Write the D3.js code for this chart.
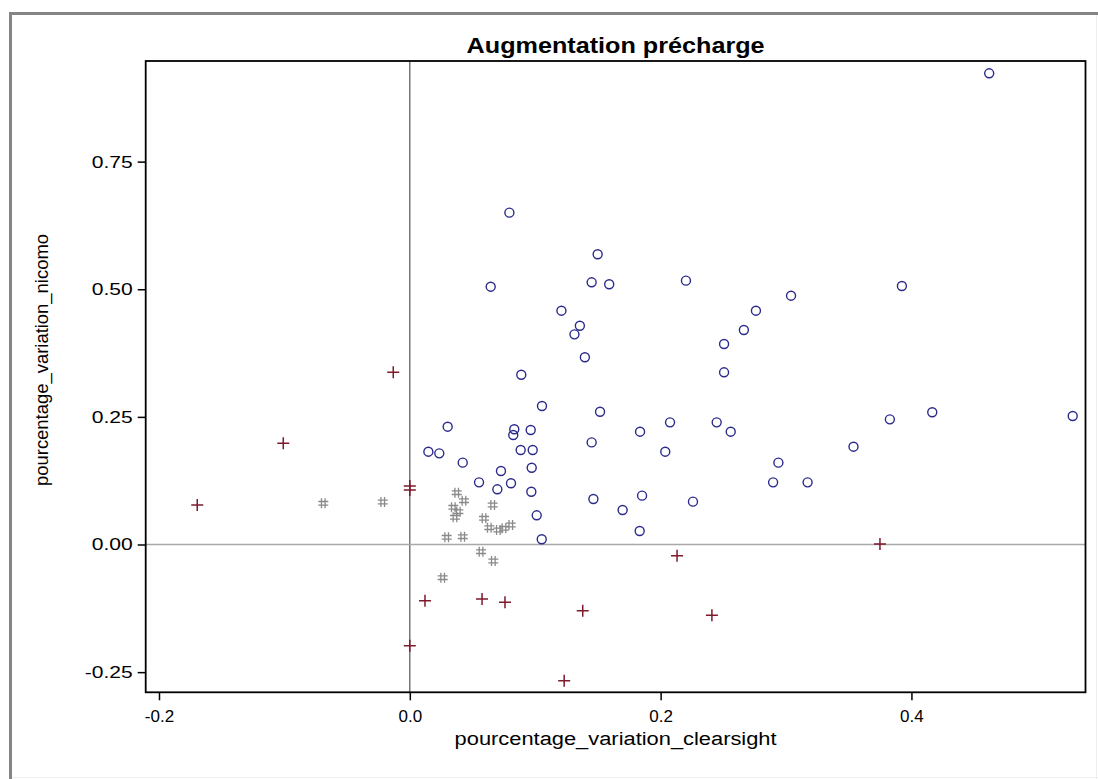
<!DOCTYPE html>
<html><head><meta charset="utf-8">
<script src="https://cdn.jsdelivr.net/npm/d3@7"></script>
<style>body{margin:0;background:#fff}svg{display:block}</style></head>
<body><svg id="c" width="1098" height="779"></svg>
<script>
const title = "Augmentation précharge";
const xLabel = "pourcentage_variation_clearsight";
const yLabel = "pourcentage_variation_nicomo";
const xTicks = [-0.2, 0.0, 0.2, 0.4];
const xTickLabels = ["-0.2", "0.0", "0.2", "0.4"];
const yTicks = [-0.25, 0.0, 0.25, 0.5, 0.75];
const yTickLabels = ["-0.25", "0.00", "0.25", "0.50", "0.75"];

// group 1: open circles (blue)
const circX = [0.462,0.0794,0.1498,0.0645,0.145,0.159,0.2202,0.3924,0.304,0.1209,0.276,0.1356,0.1313,0.2664,0.2506,0.1396,0.2506,0.0889,0.1054,0.1517,0.0302,0.0833,0.0825,0.0964,0.2075,0.2447,0.1836,0.2559,0.145,0.2037,0.3828,0.4166,0.5286,0.3538,0.2939,0.2897,0.3172,0.1464,0.1852,0.1697,0.2258,0.1833,0.1052,0.1012,0.0148,0.0235,0.0422,0.0884,0.098,0.0727,0.0972,0.0552,0.0698,0.0807,0.0969];
const circY = [0.923,0.650,0.5685,0.505,0.5136,0.5097,0.5168,0.5064,0.4874,0.458,0.458,0.4286,0.4117,0.4202,0.3928,0.3667,0.3373,0.3326,0.2713,0.2601,0.2308,0.2257,0.2145,0.2243,0.2393,0.2393,0.221,0.221,0.2,0.1818,0.2452,0.259,0.2517,0.1916,0.1603,0.1218,0.1218,0.0891,0.0957,0.0676,0.0839,0.0264,0.0102,0.0572,0.1818,0.1786,0.1603,0.1851,0.1851,0.144,0.1504,0.1218,0.1081,0.1199,0.1034];

// group 2: plus (dark red)
const plusX = [-0.1695,-0.1009,-0.0132,0.0,0.0,0.0121,0.0576,0.0759,0.0,0.1379,0.1231,0.2131,0.2409,0.3749];
const plusY = [0.0774,0.1982,0.3373,0.1146,0.1068,-0.1101,-0.1068,-0.1132,-0.1982,-0.1296,-0.2667,-0.0219,-0.1388,0.001];

// group 3: hash (gray)
const hashX = [0.0374,0.0432,0.0347,0.0387,0.036,0.0661,0.0592,0.0634,0.0706,0.0751,0.0805,0.0294,0.0422,0.0568,0.0666,0.0262,-0.069,-0.0216];
const hashY = [0.1015,0.0858,0.0729,0.0643,0.0533,0.0774,0.0513,0.0329,0.0284,0.0317,0.0382,0.0141,0.0153,-0.0141,-0.0323,-0.065,0.0807,0.0833];

const svg = d3.select("#c");
const L = 145.7, R = 1085.5, T = 61, B = 692.3;
const x = d3.scaleLinear().domain([-0.2106, 0.5388]).range([L, R]);
const y = d3.scaleLinear().domain([-0.2895, 0.9471]).range([B, T]);
const font = "'Liberation Sans', Arial, sans-serif";

// page frame
svg.append("line").attr("x1", 9).attr("x2", 1098).attr("y1", 13.5).attr("y2", 13.5).attr("stroke", "#858585").attr("stroke-width", 3);
svg.append("line").attr("x1", 10.5).attr("x2", 10.5).attr("y1", 12).attr("y2", 779).attr("stroke", "#858585").attr("stroke-width", 3);
svg.append("line").attr("x1", 12).attr("x2", 1098).attr("y1", 777.5).attr("y2", 777.5).attr("stroke", "#eeeeee").attr("stroke-width", 1);
svg.append("line").attr("x1", 1096.5).attr("x2", 1096.5).attr("y1", 15).attr("y2", 779).attr("stroke", "#eeeeee").attr("stroke-width", 1);

// title
svg.append("text").attr("x", (L + R) / 2).attr("y", 53).attr("text-anchor", "middle")
  .attr("font-family", font).attr("font-weight", "bold").attr("font-size", 22)
  .attr("textLength", 298).attr("lengthAdjust", "spacingAndGlyphs").text(title);

// reference lines
svg.append("line").attr("x1", x(0)).attr("x2", x(0)).attr("y1", T).attr("y2", B).attr("stroke", "#555").attr("stroke-width", 1.2);
svg.append("line").attr("x1", L).attr("x2", R).attr("y1", y(0)).attr("y2", y(0)).attr("stroke", "#a8a8a8").attr("stroke-width", 1.5);

// axes
const xAxis = d3.axisBottom(x).tickValues(xTicks).tickFormat((d, i) => xTickLabels[i]).tickSizeOuter(0).tickSize(8).tickPadding(10);
const yAxis = d3.axisLeft(y).tickValues(yTicks).tickFormat((d, i) => yTickLabels[i]).tickSizeOuter(0).tickSize(8).tickPadding(5);
const gx = svg.append("g").attr("transform", `translate(0,${B})`).call(xAxis);
const gy = svg.append("g").attr("transform", `translate(${L},0)`).call(yAxis);
[gx, gy].forEach(g => {
  g.select(".domain").remove();
  g.selectAll(".tick line").attr("stroke", "#000").attr("stroke-width", 1.5);
  g.selectAll(".tick text").attr("font-family", font).attr("font-size", 17).attr("fill", "#000");
});
gy.selectAll(".tick text").attr("textLength", function() { return this.textContent.length > 4 ? 48 : 41; }).attr("lengthAdjust", "spacingAndGlyphs");

// frame
svg.append("rect").attr("x", L).attr("y", T).attr("width", R - L).attr("height", B - T)
  .attr("fill", "none").attr("stroke", "#000").attr("stroke-width", 1.8);

// axis labels
svg.append("text").attr("x", (L + R) / 2).attr("y", 745).attr("text-anchor", "middle")
  .attr("font-family", font).attr("font-size", 18)
  .attr("textLength", 322).attr("lengthAdjust", "spacingAndGlyphs").text(xLabel);
svg.append("text").attr("transform", `translate(48,360) rotate(-90)`).attr("text-anchor", "middle")
  .attr("font-family", font).attr("font-size", 18)
  .attr("textLength", 252).attr("lengthAdjust", "spacingAndGlyphs").text(yLabel);

// markers
const circles = circX.map((v, i) => [v, circY[i]]);
const pluses = plusX.map((v, i) => [v, plusY[i]]);
const hashes = hashX.map((v, i) => [v, hashY[i]]);

svg.append("g").selectAll("path").data(hashes).join("path")
  .attr("d", d => {
    const cx = x(d[0]), cy = y(d[1]), s = 5, o = 1.8;
    return `M${cx - o},${cy - s}V${cy + s}M${cx + o},${cy - s}V${cy + s}M${cx - s},${cy - o}H${cx + s}M${cx - s},${cy + o}H${cx + s}`;
  })
  .attr("fill", "none").attr("stroke", "#8a8a8a").attr("stroke-width", 1.3);

svg.append("g").selectAll("path").data(pluses).join("path")
  .attr("d", d => {
    const cx = x(d[0]), cy = y(d[1]), s = 6;
    return `M${cx - s},${cy}H${cx + s}M${cx},${cy - s}V${cy + s}`;
  })
  .attr("fill", "none").attr("stroke", "#7d1a2c").attr("stroke-width", 1.5);

svg.append("g").selectAll("circle").data(circles).join("circle")
  .attr("cx", d => x(d[0])).attr("cy", d => y(d[1])).attr("r", 4.5)
  .attr("fill", "none").attr("stroke", "#2a2a8c").attr("stroke-width", 1.4);
</script></body></html>
